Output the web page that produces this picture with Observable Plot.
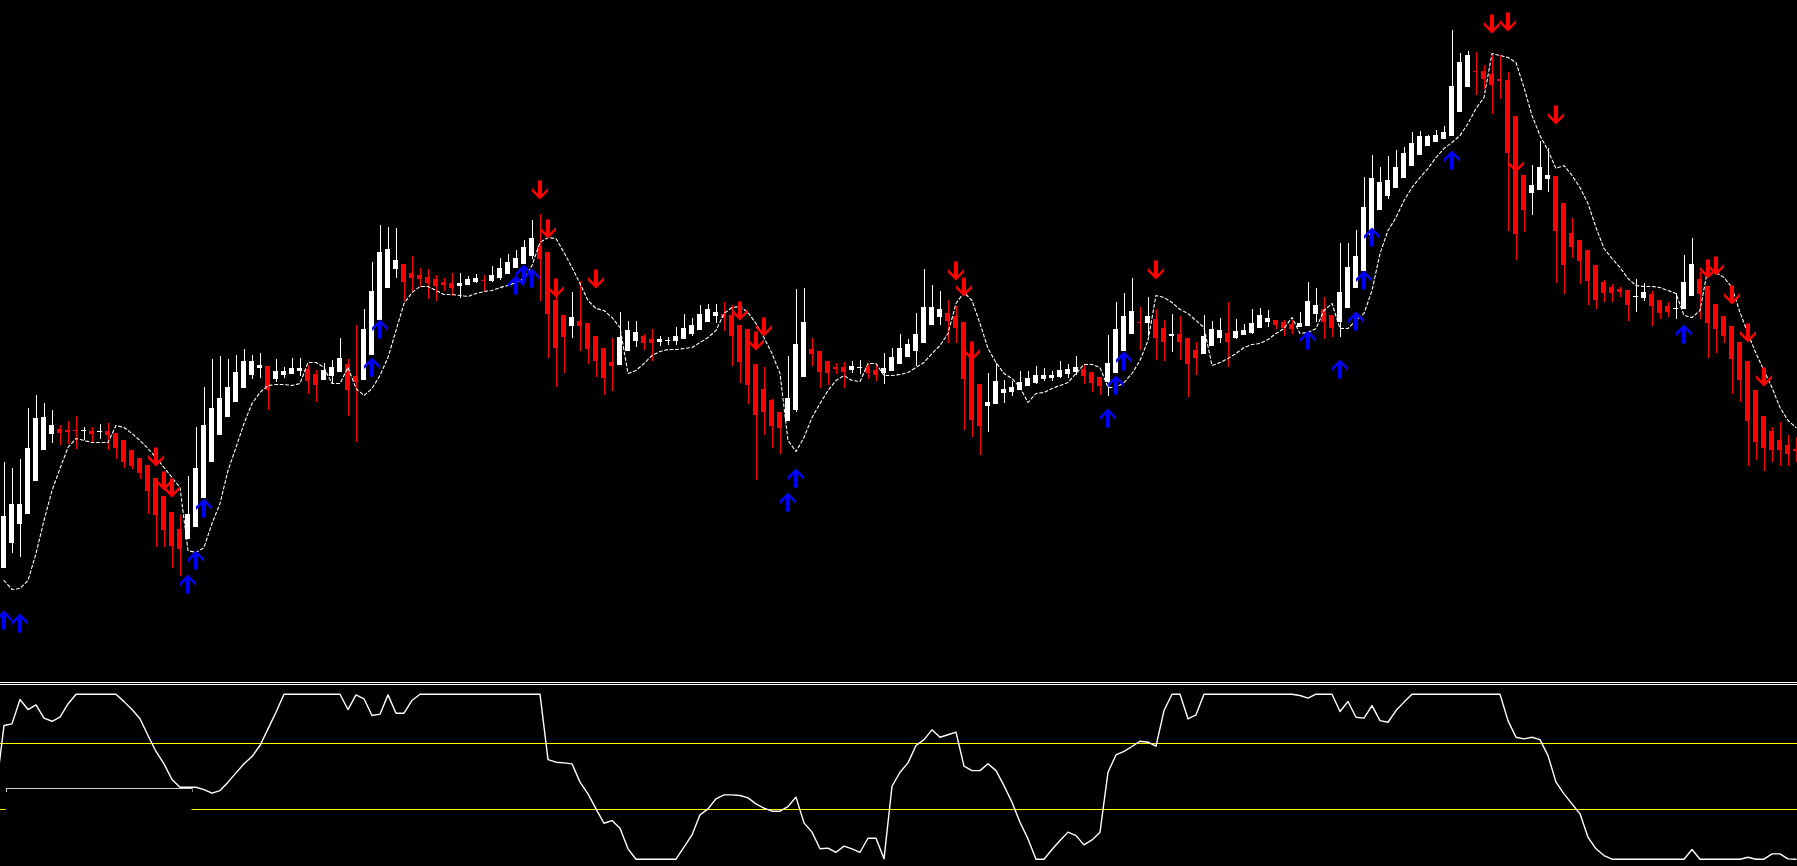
<!DOCTYPE html>
<html><head><meta charset="utf-8">
<script src="https://cdn.jsdelivr.net/npm/d3@7"></script>
<script src="https://cdn.jsdelivr.net/npm/@observablehq/plot@0.6"></script>
<style>
html,body{margin:0;padding:0;background:#000;overflow:hidden;width:1797px;height:866px;}
#sep{height:1px;border-top:1px solid #fff;border-bottom:1px solid #fff;background:#000;}
svg{display:block}
</style></head><body>
<div id="main"></div><div id="sep"></div><div id="osc"></div>
<script>
// ---- Candles (arbitrary price units, no axis shown in the original) ----
const open  = [112,137,156,166,199,230,246,251,250,249.5,249,249,248.5,249,247,240,230,222,215,202,184,168,151,141,153,182,218,245,263,278,292,305,312,314,301,305,306,309,311,306,300,304,308,316,304,300,325,360,392,411,416,407,405,403,401,398,397,394,395,398,400,399,402,406,412,416,424,434,428,380,365,354,359,357,344,332,318,315,329,339,344,341,338,339.5,339,341,346,350,358,364,366,365,355,351,316,291,280,268,259,270,303,331,329,319,313,313,310,312.5,313,310,307,309,316,323,329,337,355,363,367,364,358,327,296,274,276,287,288,290,294,297,301,302,303,306,308,311,308,303,298,307,329,346,358.5,357,361,352,344,346,342,330,326,334,342,347,342,345,347,352,358,360,358,356,353,354,366,371,365,358,372,392,409,445,470,484,492,502,514,525,534,538,541,544,568,593,609.5,609,606,601,600,564,505,487,490,501,504,477,447,440,430,415,398,393,391,390,383,382,386,380,374,371,371,384,401,394,376,364,354,338,319,290,264,249,240,235,231];
const high  = [218,212,221,272,285,277,270,255,259,264,253,253,256,257,247,240,230,222,215,202,184,168,165,204,253,293,321,324,321,325,331,325,327,314,321,313,322,322,315,310,317,320,342,321,355,371,418,455,453,452,416,424,412,411,405,402,407,407,404,406,405,414,422,426,430,440,460,466,428,383,365,388,399,357,344,332,342,368,359,359,346,351,344,343,353,366,362,375,376,376,378,375,355,351,316,313,281,268,324,391,392,342,329,319,317,318,319,320,316,316,327,332,346,341,367,411,395,389,380,374,358,330,296,307,317,300,299,309,309,314,312,309,319,316,324,315,308,303,345,378,387,402,373,383,371,360,366,364,342,338,365,359,362,378,361,356,371,372,370,360,360,360,368,398,392,383,365,437,437,450,503,525,513,524,530,533,548,549,545,550,554,650,627,629,628,615,625,625,608,564,505,515,539,532,504,477,462,440,430,415,400,396,393,390,401,397,389,380,378,387,425,442,408,394,376,364,354,338,319,290,264,253,258,245,243];
const low   = [112,127,123,166,199,230,237,235,236,231,240,237,241,230,221,212,211,201,166,133,133,112,104,141,153,182,218,245,263,278,292,301,302,270,298,302,306,304,286,278,300,297,308,264,238,300,325,360,392,402,379,388,393,381,379,389,384,382,395,397,389,398,400,406,412,416,421,379,322,293,307,342,329,316,303,285,289,315,329,333,330,319,334,335,335,341,344,350,358,357,349,314,297,276,200,245,232,226,259,268,303,314,292,295,306,292,307,306,301,299,296,309,316,323,314,337,355,355,337,337,250,243,225,248,276,277,284,290,294,296,299,299,302,302,305,296,288,285,284,307,329,346,330,344,320,319,328,320,283,305,326,334,337,313,341,345,346,352,353,351,344,346,353,354,358,341,343,343,372,392,409,440,470,481,492,502,514,525,534,538,541,544,568,593,585,591,566,581,449,420,448,465,490,488,397,386,422,396,375,371,378,378,383,359,368,379,354,361,363,361,371,384,361,322,327,337,286,278,214,220,209,218,214,214,218];
const close = [164,176,176,232,262,263,255,247,248,249,249.5,246,249,245,232,218,214,207,189,165,150,134,131,166,212,255,272,282,293,308,319,319,315,290,309,309,312,312,299,295,310,313,322,290,298,351,389,428,431,420,398,402,401,397,394,395,392,397,401,402,399,405,412,418,422,433,442,421,366,332,343,363,354,331,319,302,314,343,350,348,337,337,341,340,344,352,355,366,371,368,362,344,318,295,265,268,254,252,282,336,358,326,308,307,311,308,314,313,307,305,312,323,332,336,346,373,373,371,359,352,301,260,254,278,299,291,293,298,302,305,305,305,310,311,313,304,297,294,317,351,364,369,357.5,364,342,338,346,338,316,322,344,351,350,338,349,350,357,365,362,355,352,351,357,379,375,358,352,388,413,424,473,502,498,500,513,527,537,544,544,545,548,594,618,625,608.5,601,595,599,527,446,470,495,513,505,449,415,433,419,399,380,387,387,388,375,384,388,374,367,368,372,398,416,386,357,351,344,321,300,259,238,232,230,230,226,229];

// ---- Dotted trailing line over the candles ----
const trail = [100,91,92,100,127,160,190,212,233,242,240,238,238,238,255,253,247,240,232,223,213,203,193,130,128,133,157,177,210,233,257,277,288,295,296,296,295,297,318,318,313,297,297,313,292,285,292,305,323,350,377,388,394,394,390,386,386,385,384,387,389,390,393,395,398,402,415,438,443,442,428,413,397,380,372,370,363,353,307,310,317,325,329,331,331,332,333,338,343,350,367,373,374,368,357,343,327,307,240,229,243,263,277,290,300,305,300,299,317,317,305,305,306,308,313,318,327,335,347,377,388,380,357,332,318,307,302,293,278,287,288,292,295,298,307,316,316,313,293,293,298,307,320,340,385,383,378,371,367,360,353,315,318,322,327,333,336,337,341,347,352,363,347,348,352,370,377,352,352,360,367,390,427,450,463,480,493,503,512,523,532,538,545,557,572,583,627,625,623,618,593,565,545,530,512,515,505,493,477,453,432,422,413,402,395,394,394,393,390,387,365,363,370,413,408,403,393,368,347,327,310,293,273,260,253];

// ---- Signal arrows: bar index and arrow tip level ----
const upBars    = [0,2,23,24,25,46,47,64,65,66,98,99,138,139,140,163,167,169,170,171,181,210];
const upLevels  = [70,67,106,130,182,323,361,405,416,412,188,212,272,305,329,350,321,369,410,453,530,356];
const downBars  = [19,20,21,67,68,69,74,92,94,95,119,120,121,144,186,188,189,194,213,214,216,218,220];
const downLevels= [214,190,183,481,442,383,392,360,330,344,400,384,320,401,647,649,508,556,402,405,376,338,294];

// ---- Oscillator (0-100), first value belongs to the bar just left of the window ----
const oscStart = -1;
const osc = [42,81,82,96.8,90.7,93.5,85.5,83.6,86.1,94.1,100,100,100,100,100,100,95.5,90.7,85.1,75,65.3,57.8,48.3,43.6,43.6,43.6,42.2,40,41.6,46.7,52.3,57.8,62.2,68.9,79,89.1,100,100,100,100,100,100,100,100,90.7,99.6,97.2,87.1,87.9,99.6,88.5,88.5,96.2,100,100,100,100,100,100,100,100,100,100,100,100,100,100,100,100,60.4,58.8,58.4,57.8,46.7,39.6,30.5,21.8,23.4,18.8,6.3,0,0,0,0,0,0,7.3,14.7,26.9,30.5,36.6,39,39,38.6,37.2,33.5,30.9,29.1,29.1,31.9,37.6,22,16.4,6.3,6.7,4.2,7.9,6.3,4.2,12.7,12.7,0.2,44.2,52.7,58.4,68.9,72.5,78.4,73.9,75.4,77,56.4,53.7,53.7,57.8,53.7,44.6,34.5,22.4,12.3,0,0,5.9,11.3,16.4,14.3,8.7,11.7,16.4,52.7,63.2,65.3,68.3,71.5,70.9,68.5,90.1,100,100,85.1,87.5,100,100,100,100,100,100,100,100,100,100,100,100,99.2,97.6,100,100,100,89.5,95.6,86,85.5,93.1,84,83,90.1,95.2,100,100,100,100,100,100,100,100,100,100,100,100,84,73.9,72.9,73.9,72.5,62.8,46.7,39.6,33.5,27.5,13.3,6.3,2.2,0,0,0,0,0,0,0,0,0,0,5.9,0,0,0,0,0,0,1.2,0,0,3.2,3.2,0.2,0];
const oscLevels = [70, 30];
// overlay label box in the indicator window (bars, level)
const labelBox = [{from: 0.28, to: 23.5, top: 42.8}];

// ---- build tables ----
const candles = open.map((o, i) => ({i, open: o, high: high[i], low: low[i], close: close[i], up: close[i] >= o}));
const trailData = trail.map((v, i) => ({i, v}));
const ups = upBars.map((b, k) => ({i: b, v: upLevels[k]}));
const downs = downBars.map((b, k) => ({i: b, v: downLevels[k]}));
const oscData = osc.map((v, k) => ({i: k + oscStart, v}));

const W = 1797;
const xScale = {type: "linear", domain: [0, 224], range: [3.5, 1795.5]};
const half = 2.5 / 8;

// chunky chevron-headed arrow (like the terminal's wingdings arrows), drawn pointing "up" along -y
const chunkyArrow = {
  draw(ctx, l) {
    const w = 8, hd = 8, s = 2, th = 3.5;
    ctx.moveTo(0, -l);
    ctx.lineTo(w, -l + hd);
    ctx.lineTo(w, -l + hd + th);
    ctx.lineTo(s, -l + hd + th - (w - s));
    ctx.lineTo(s, 0);
    ctx.lineTo(-s, 0);
    ctx.lineTo(-s, -l + hd + th - (w - s));
    ctx.lineTo(-w, -l + hd + th);
    ctx.lineTo(-w, -l + hd);
    ctx.closePath();
  }
};

const main = Plot.plot({
  width: W, height: 682,
  margin: 0,
  style: {background: "#000"},
  x: {...xScale, axis: null},
  y: {domain: [0, 680], range: [680, 0], axis: null},
  marks: [
    Plot.ruleX(candles, {x: "i", y1: "low", y2: "high", stroke: d => d.up ? "#ffffff" : "#ff0000", strokeWidth: 1, shapeRendering: "crispEdges"}),
    Plot.rect(candles, {
      x1: d => d.i - half, x2: d => d.i + half,
      y1: d => Math.min(d.open, d.close),
      y2: d => Math.max(Math.max(d.open, d.close), Math.min(d.open, d.close) + 1),
      fill: d => d.up ? "#ffffff" : "#ff0000", shapeRendering: "crispEdges"
    }),
    Plot.line(trailData, {x: "i", y: "v", stroke: "#ffffff", strokeWidth: 1.1, strokeDasharray: "3,2.5"}),
    Plot.vector(ups, {x: "i", y: "v", length: 19, rotate: 0, anchor: "end", shape: chunkyArrow, fill: "#0000ff", stroke: "none"}),
    Plot.vector(downs, {x: "i", y: "v", length: 19, rotate: 180, anchor: "end", shape: chunkyArrow, fill: "#ff0000", stroke: "none"})
  ]
});
document.getElementById("main").appendChild(main);

const oscPlot = Plot.plot({
  width: W, height: 181,
  margin: 0,
  style: {background: "#000"},
  x: {...xScale, axis: null},
  y: {domain: [0, 100], range: [173.7, 8.7], axis: null},
  marks: [
    Plot.ruleY(oscLevels, {stroke: "#ffff00", strokeWidth: 1, shapeRendering: "crispEdges"}),
    Plot.line(oscData, {x: "i", y: "v", stroke: "#ffffff", strokeWidth: 1.4, clip: true}),
    Plot.rect(labelBox, {x1: "from", x2: "to", y1: -10, y2: "top", fill: "#000", clip: true}),
    Plot.ruleY(labelBox, {x1: "from", x2: "to", y: "top", stroke: "#cfcfcf", strokeWidth: 1, shapeRendering: "crispEdges"}),
    Plot.ruleX(labelBox, {x: "from", y1: d => d.top - 2.4, y2: "top", stroke: "#cfcfcf", strokeWidth: 1, shapeRendering: "crispEdges"}),
    Plot.ruleX(labelBox, {x: "to", y1: d => d.top - 2.4, y2: "top", stroke: "#808080", strokeWidth: 1, shapeRendering: "crispEdges"})
  ]
});
document.getElementById("osc").appendChild(oscPlot);
</script></body></html>
